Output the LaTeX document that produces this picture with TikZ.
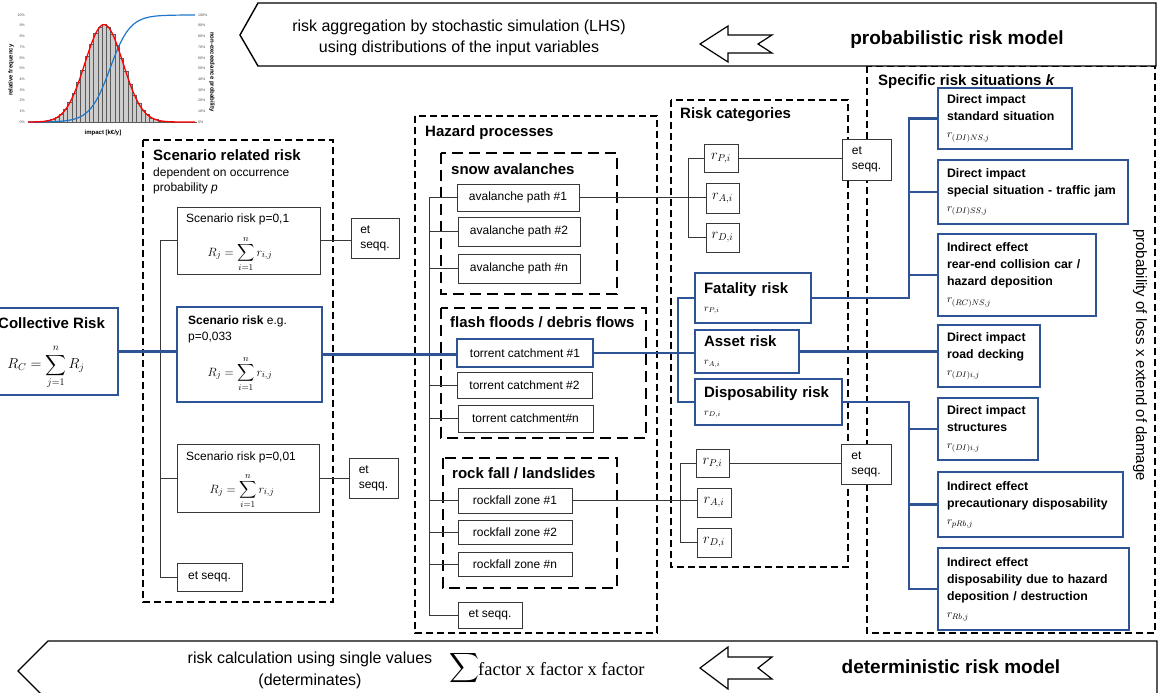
\documentclass[tikz,border=0pt]{standalone}
\usepackage{amsmath}
\usepackage{fontspec}
\setmainfont{Liberation Sans}
\newfontfamily\factorfont{Liberation Serif}
\definecolor{riskblue}{RGB}{47, 84, 150}
\definecolor{linegray}{RGB}{55, 55, 55}
\definecolor{barfill}{RGB}{205, 205, 205}
\definecolor{bargray}{RGB}{90, 90, 90}
\definecolor{cdfblue}{RGB}{30, 120, 200}

\begin{document}
\begin{tikzpicture}[
    x=1pt, y=-1pt,
    procbox/.style={rectangle, draw=linegray, line width=1pt, fill=white, inner sep=0pt, font=\fontsize{12}{14}\selectfont},
    etbox/.style={rectangle, draw=linegray, line width=1pt, fill=white, inner xsep=6pt, inner ysep=0pt, align=left, font=\fontsize{12}{15}\selectfont},
    rbox/.style={rectangle, draw=linegray, line width=1pt, fill=white, inner sep=0pt, font=\fontsize{14}{16}\selectfont},
    bluebox/.style={rectangle, draw=riskblue, line width=2.6pt, fill=white, inner xsep=9pt, inner ysep=0pt, align=left},
    catbox/.style={bluebox, font=\fontsize{15}{18}\selectfont\bfseries},
    sitbox/.style={bluebox, font=\fontsize{12.3}{17}\selectfont\bfseries},
    groupframe/.style={draw=black, line width=1.6pt, dash pattern=on 7pt off 4pt},
    subframe/.style={draw=black, line width=1.9pt, dash pattern=on 11pt off 6pt},
    heading/.style={anchor=base west, inner sep=0pt, font=\fontsize{15}{17}\selectfont\bfseries},
    plain/.style={anchor=base west, inner sep=0pt, font=\fontsize{12}{14}\selectfont},
    formula/.style={inner sep=0pt, font=\fontsize{12.5}{15}\selectfont},
    treeline/.style={draw=linegray, line width=1pt},
    blueline/.style={draw=riskblue, line width=2.6pt},
    banner/.style={draw=black, line width=1.4pt, fill=white},
    hollow/.style={draw=black, line width=1.2pt, fill=white, line join=miter},
    bannertext/.style={inner sep=0pt, font=\fontsize{16}{18}\selectfont},
    bannerbold/.style={inner sep=0pt, font=\fontsize{19}{21}\selectfont\bfseries},
    ticklabel/.style={inner sep=0pt, text=black!70, font=\fontsize{3.6}{4}\selectfont},
    axislabel/.style={inner sep=0pt, font=\fontsize{6}{7}\selectfont\bfseries}
    ]
    \useasboundingbox (0,0) rectangle (1160,693);

    % Distribution chart
    \draw[black!35, line width=0.5pt] (28,122) -- (195,122);
    \foreach \i in {0,...,38} {
        \pgfmathsetmacro\bx{29+4.3*\i}
        \pgfmathsetmacro\bz{(\bx+2.15-104)/19}
        \pgfmathsetmacro\bh{97.4*exp(-0.5*(\bz)*(\bz))}
        \filldraw[fill=barfill, draw=bargray, line width=0.5pt] (\bx,122) rectangle ++(4.3,-\bh);
    }
    \draw[cdfblue, line width=1.2pt] plot[domain=28:195, samples=100, smooth] (\x, {122-107/(1+exp(-0.1*(\x-110)))});
    \draw[red, line width=1.3pt] plot[domain=28:195, samples=100, smooth] (\x, {122-97.4*exp(-0.5*((\x-104)/19)*((\x-104)/19))});
    \foreach \p in {0,...,10} {
        \pgfmathtruncatemacro\q{10*\p}
        \node[ticklabel, anchor=east] (lf\p) at (25,{122-10.7*\p}) {\p\%};
        \node[ticklabel, anchor=west] (rt\p) at (198,{122-10.7*\p}) {\q\%};
    }
    \node[axislabel, rotate=90] (relfreq) at (11,70) {relative frequency};
    \node[axislabel, rotate=-90] (nonexc) at (212,72) {non-exceedance probability};
    \node[axislabel] (impact) at (103,133) {impact [k€/y]};

    % Groups
    \draw[groupframe] (143,140) rectangle (333,602);
    \draw[groupframe] (415,116) rectangle (657,633);
    \draw[subframe] (441,153) rectangle (617,294);
    \draw[subframe] (441,308) rectangle (646,438);
    \draw[subframe] (443,458) rectangle (617,588);
    \draw[groupframe] (671,100) rectangle (848,567);
    \draw[groupframe] (867,66) rectangle (1155,633);

    % Banners
    \draw[banner] (1156,3) -- (258,3) -- (240,35) -- (258,66) -- (1156,66) -- cycle;
    \node[bannertext] (topL1) at (459,27) {risk aggregation by stochastic simulation (LHS)};
    \node[bannertext] (topL2) at (459,48) {using distributions of the input variables};
    \draw[hollow] (700,44) -- (728,26) -- (728,35) -- (772,35) -- (758,44) -- (772,53) -- (728,53) -- (728,62) -- cycle;
    \node[bannerbold] (topR) at (957,40) {probabilistic risk model};

    \draw[banner] (1157,641) -- (48,641) -- (18,671) -- (48,701) -- (1157,701) -- cycle;
    \node[bannertext] (botL1) at (310,659) {risk calculation using single values};
    \node[bannertext] (botL2) at (310,681) {(determinates)};
    \node[inner sep=0pt, font=\fontsize{20}{22}\selectfont] (botSum) at (464,668) {$\displaystyle\sum$};
    \node[anchor=west, inner sep=0pt, font=\fontsize{18.5}{20}\selectfont\factorfont] (botF) at (478,669) {factor x factor x factor};
    \draw[hollow] (700,668) -- (728,647) -- (728,657) -- (772,657) -- (758,668) -- (772,679) -- (728,679) -- (728,689) -- cycle;
    \node[bannerbold] (botR) at (951,667) {deterministic risk model};

    % Tree coordinates
    \coordinate (trS) at (160,577);
    \coordinate (trH) at (429,615);
    \coordinate (trT) at (688,237.5);
    \coordinate (trB) at (680,542.5);
    \coordinate (trR) at (678,402);
    \coordinate (trF) at (909,118.5);
    \coordinate (trD) at (909,589);

    % Collective risk
    \node[bluebox, minimum width=124pt, minimum height=87pt] (coll) at (56,351.5) {};
    \node[heading] (collT) at (-2,328) {Collective Risk};
    \node[formula, font=\fontsize{14.5}{17}\selectfont] (collF) at (46,367) {$\displaystyle R_C=\sum_{j=1}^{n} R_j$};

    % Scenario related risk
    \node[heading] (scHead) at (153,160) {Scenario related risk};
    \node[plain] (scSub1) at (153,176) {dependent on occurrence};
    \node[plain] (scSub2) at (153,191) {probability \textit{p}};

    \node[procbox, minimum width=143pt, minimum height=67pt] (scA) at (248.5,240.5) {};
    \node[plain] (scAt) at (186,222) {Scenario risk p=0,1};
    \node[formula] (scAf) at (240,254) {$\displaystyle R_j=\sum_{i=1}^{n} r_{i,j}$};

    \node[bluebox, minimum width=145pt, minimum height=95pt] (scB) at (249.5,354.5) {};
    \node[plain] (scBt) at (188,324) {\textbf{Scenario risk} e.g.};
    \node[plain] (scBp) at (188,340) {p=0,033};
    \node[formula] (scBf) at (240,374) {$\displaystyle R_j=\sum_{i=1}^{n} r_{i,j}$};

    \node[procbox, minimum width=142pt, minimum height=68pt] (scC) at (248,478) {};
    \node[plain] (scCt) at (186,460) {Scenario risk p=0,01};
    \node[formula] (scCf) at (242,491) {$\displaystyle R_j=\sum_{i=1}^{n} r_{i,j}$};

    \node[procbox, minimum width=65pt, minimum height=28pt] (scEt) at (209.5,577) {et seqq.};
    \node[etbox, minimum width=48pt, minimum height=40pt] (etA) at (375,238) {et\\seqq.};
    \node[etbox, minimum width=49pt, minimum height=40pt] (etC) at (373.5,478) {et\\seqq.};

    % Hazard processes
    \node[heading] (hzHead) at (425,136) {Hazard processes};
    \node[heading] (avHead) at (451,174) {snow avalanches};
    \node[procbox, minimum width=122pt, minimum height=27pt] (av1) at (518,197.5) {avalanche path \#1};
    \node[procbox, minimum width=122pt, minimum height=29pt] (av2) at (519,231.5) {avalanche path \#2};
    \node[procbox, minimum width=122pt, minimum height=29pt] (av3) at (519,268.5) {avalanche path \#n};

    \node[heading] (tcHead) at (450,327) {flash floods / debris flows};
    \node[procbox, draw=riskblue, line width=2.6pt, minimum width=136pt, minimum height=28pt] (tc1) at (525,353) {torrent catchment \#1};
    \node[procbox, minimum width=135pt, minimum height=26pt] (tc2) at (524.5,385) {torrent catchment \#2};
    \node[procbox, minimum width=135pt, minimum height=27pt] (tcn) at (525.5,418.5) {torrent catchment\#n};

    \node[heading] (rfHead) at (452,478) {rock fall / landslides};
    \node[procbox, minimum width=114pt, minimum height=25pt] (rf1) at (515,500.5) {rockfall zone \#1};
    \node[procbox, minimum width=114pt, minimum height=24pt] (rf2) at (515,532) {rockfall zone \#2};
    \node[procbox, minimum width=114pt, minimum height=24pt] (rfn) at (515,564) {rockfall zone \#n};
    \node[procbox, minimum width=64pt, minimum height=26pt] (hzEt) at (490,615) {et seqq.};

    % Risk categories
    \node[heading] (rcHead) at (680,118) {Risk categories};
    \node[rbox, minimum width=34pt, minimum height=28pt] (rP1) at (721,158) {$r_{P,i}$};
    \node[rbox, minimum width=33pt, minimum height=30pt] (rA1) at (722.5,198) {$r_{A,i}$};
    \node[rbox, minimum width=33pt, minimum height=29pt] (rD1) at (722.5,237.5) {$r_{D,i}$};
    \node[etbox, minimum width=49pt, minimum height=41pt] (etT) at (866.5,159.5) {et\\seqq.};

    \node[catbox, text width=98pt, minimum height=50pt] (fat) at (753,298) {Fatality risk\\{\mdseries\fontsize{10}{12}\selectfont$r_{P,i}$}};
    \node[catbox, text width=86pt, minimum height=43pt] (asset) at (747,351.5) {Asset risk\\{\mdseries\fontsize{10}{12}\selectfont$r_{A,i}$}};
    \node[catbox, text width=129pt, minimum height=46pt] (dis) at (768.5,402) {Disposability risk\\{\mdseries\fontsize{10}{12}\selectfont$r_{D,i}$}};

    \node[rbox, minimum width=33pt, minimum height=28pt] (rP2) at (712.5,463) {$r_{P,i}$};
    \node[rbox, minimum width=34pt, minimum height=29pt] (rA2) at (714,502.5) {$r_{A,i}$};
    \node[rbox, minimum width=34pt, minimum height=29pt] (rD2) at (714,542.5) {$r_{D,i}$};
    \node[etbox, minimum width=50pt, minimum height=40pt] (etB) at (866,464) {et\\seqq.};

    % Specific risk situations
    \node[heading] (spHead) at (878,85) {Specific risk situations \textit{k}};
    \node[sitbox, text width=116pt, minimum height=61pt] (dA) at (1005,118.5) {Direct impact\\standard situation\\{\mdseries\fontsize{11}{13}\selectfont$r_{(DI)NS,j}$}};
    \node[sitbox, text width=172pt, minimum height=64pt] (dB) at (1033,192) {Direct impact\\special situation - traffic jam\\{\mdseries\fontsize{11}{13}\selectfont$r_{(DI)SS,j}$}};
    \node[sitbox, text width=140pt, minimum height=82pt] (dC) at (1017,275) {Indirect effect\\rear-end collision car /\\hazard deposition\\{\mdseries\fontsize{11}{13}\selectfont$r_{(RC)NS,j}$}};
    \node[sitbox, text width=84pt, minimum height=62pt] (dD) at (989,356) {Direct impact\\road decking\\{\mdseries\fontsize{11}{13}\selectfont$r_{(DI)i,j}$}};
    \node[sitbox, text width=82pt, minimum height=62pt] (dE) at (988,429) {Direct impact\\structures\\{\mdseries\fontsize{11}{13}\selectfont$r_{(DI)i,j}$}};
    \node[sitbox, text width=167pt, minimum height=65pt] (dF) at (1030.5,504.5) {Indirect effect\\precautionary disposability\\{\mdseries\fontsize{11}{13}\selectfont$r_{pRb,j}$}};
    \node[sitbox, text width=173pt, minimum height=82pt] (dG) at (1033.5,589) {Indirect effect\\disposability due to hazard\\deposition / destruction\\{\mdseries\fontsize{11}{13}\selectfont$r_{Rb,j}$}};
    \node[rotate=-90, inner sep=0pt, font=\fontsize{15}{17}\selectfont] (probLoss) at (1140,355) {probability of loss x extend of damage};

    % Thin connectors
    \draw[treeline] (scA.west) -| (trS) |- (scEt.west);
    \draw[treeline] (scC.west) -- (scC.west -| trS);
    \draw[treeline] (scA.east) -- (scA.east -| etA.west);
    \draw[treeline] (scC.east) -- (scC.east -| etC.west);
    \draw[treeline] (av1.west) -| (trH) |- (hzEt.west);
    \foreach \n in {av2,av3,tc2,tcn,rf1,rf2,rfn}
        \draw[treeline] (\n.west) -- (\n.west -| trH);
    \draw[treeline] (rP1.west) -| (trT) |- (rD1.west);
    \draw[treeline] (av1.east) -- (av1.east -| rA1.west);
    \draw[treeline] (rP1.east) -- (rP1.east -| etT.west);
    \draw[treeline] (rP2.west) -| (trB) |- (rD2.west);
    \draw[treeline] (rf1.east) -- (rf1.east -| rA2.west);
    \draw[treeline] (rP2.east) -- (rP2.east -| etB.west);

    % Blue risk path
    \draw[blueline] (coll.east) -- (coll.east -| scB.west);
    \draw[blueline] (scB.east) -- (scB.east -| tc1.west);
    \draw[blueline] (tc1.east) -- (tc1.east -| asset.west);
    \draw[blueline] (fat.west) -| (trR) |- (dis.west);
    \draw[blueline] (fat.east) -| (trF) |- (dA.west);
    \foreach \n in {dB,dC}
        \draw[blueline] (\n.west) -- (\n.west -| trF);
    \draw[blueline] (asset.east) -- (asset.east -| dD.west);
    \draw[blueline] (dis.east) -| (trD) |- (dG.west);
    \foreach \n in {dE,dF}
        \draw[blueline] (\n.west) -- (\n.west -| trD);

\end{tikzpicture}
\end{document}
